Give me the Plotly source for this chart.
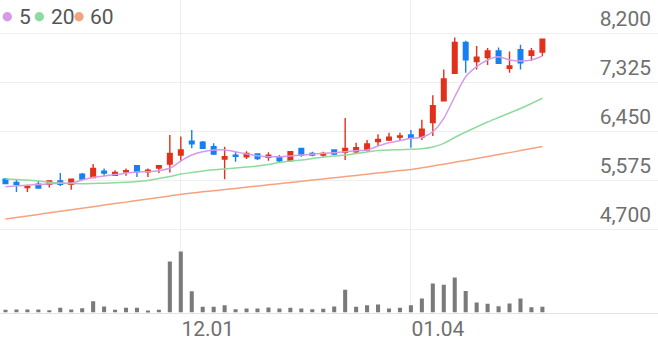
import plotly.graph_objects as go

dates = ["11.09","11.10","11.11","11.12","11.13","11.16","11.17","11.18","11.19","11.20",
         "11.23","11.24","11.25","11.26","11.27","11.30",
         "12.01","12.02","12.03","12.04","12.07","12.08","12.09","12.10","12.11","12.14",
         "12.15","12.16","12.17","12.18","12.21","12.22","12.23","12.24","12.28","12.29","12.30",
         "01.04","01.05","01.06","01.07","01.08","01.11","01.12","01.13","01.14","01.15",
         "01.18","01.19","01.20"]

open_ = [5590,5530,5440,5500,5500,5560,5500,5680,5620,5730,5660,5720,5830,5720,5790,5860,
         6020,6270,6250,6170,5950,6020,5990,6040,5980,5990,5920,6140,6050,6020,6110,6070,
         6080,6110,6260,6290,6340,6380,6340,6600,6990,7480,8030,7690,7760,7880,7570,7900,7800,7860]
high = [5610,5580,5490,5560,5560,5700,5590,5700,5860,5780,5750,5780,5830,5780,5830,6380,
        6350,6470,6270,6230,6170,6080,6090,6050,6070,6020,6080,6140,6080,6080,6120,6680,
        6240,6290,6390,6420,6420,6470,6650,7090,7550,8120,8060,7970,7930,7940,7870,7990,7930,8090]
low = [5500,5360,5360,5430,5440,5470,5400,5580,5620,5650,5650,5650,5630,5630,5700,5710,
       5910,6140,6130,6020,5590,5900,5950,5930,5920,5890,5910,5990,6000,5980,6020,5930,
       6050,6080,6180,6270,6280,6150,6290,6360,6990,7480,7490,7550,7630,7660,7490,7550,7700,7790]
close = [5510,5500,5460,5430,5560,5500,5590,5590,5780,5700,5710,5740,5720,5750,5830,6050,
         6110,6220,6140,6040,5990,6000,6050,5960,6020,5920,6080,6020,6020,6050,6040,6140,
         6150,6220,6300,6340,6360,6320,6480,6900,7380,8030,7720,7770,7880,7660,7610,7670,7880,8090]

volume = [13500,15000,15000,15000,11500,23500,15000,21500,56500,30000,13500,23500,23500,10000,
          13500,256500,306500,106500,28500,28500,36500,16500,20000,20000,25000,20000,23500,
          20000,16500,18500,30000,115000,28500,36500,40000,20000,23500,36500,70000,146500,
          140000,176500,108500,50000,43500,31500,45000,70000,26500,28500]

ma5 = [5455,5473,5482,5495,5507,5516,5516,5575,5623,5646,5673,5695,5718,5723,5741,5784,
       5914,6021,6080,6111,6111,6080,6039,6009,5991,5991,6004,6021,6034,6052,6062,6080,
       6098,6111,6182,6241,6277,6320,6337,6437,6677,7062,7420,7598,7718,7777,7718,7700,7718,7789]
ma20 = [5593,5584,5575,5557,5534,5521,5511,5509,5513,5518,5525,5534,5548,5566,5602,5638,
        5682,5709,5736,5757,5772,5789,5807,5825,5852,5888,5914,5932,5959,5986,6004,6021,
        6048,6075,6102,6111,6116,6123,6134,6164,6230,6334,6432,6522,6611,6691,6772,6852,6941,7034]
ma60 = [4879,4905,4934,4961,4989,5016,5043,5071,5098,5127,5154,5180,5209,5236,5264,5291,
        5320,5341,5363,5382,5404,5425,5446,5468,5489,5509,5530,5552,5573,5595,5616,5636,
        5657,5679,5700,5721,5743,5762,5793,5825,5857,5891,5925,5959,5993,6029,6064,6100,6136,6173]

y_ticks = [4700, 5575, 6450, 7325, 8200]
x_ticks = ["12.01", "01.04"]
ma_names = ["5", "20", "60"]
ma_colors = ["#d59be9", "#8fdb9f", "#f5a37f"]

H = 342
def fy(px):
    return 1 - px / H

fig = go.Figure()
for vals, name, col in zip([ma60, ma20, ma5], ma_names[::-1], ma_colors[::-1]):
    fig.add_trace(go.Scatter(x=dates, y=vals, mode="lines", name=name,
                             line=dict(color=col, width=1.5, shape="spline", smoothing=0.7),
                             xaxis="x", yaxis="y", showlegend=False, hoverinfo="skip"))

fig.add_trace(go.Candlestick(x=dates, open=open_, high=high, low=low, close=close,
                             increasing=dict(line=dict(color="#e2301a", width=1.4), fillcolor="#e2301a"),
                             decreasing=dict(line=dict(color="#1680f2", width=1.4), fillcolor="#1680f2"),
                             whiskerwidth=0, xaxis="x", yaxis="y", showlegend=False))

fig.add_trace(go.Bar(x=dates, y=volume, marker=dict(color="#7a7a7a", line=dict(width=0)),
                     width=0.37, xaxis="x2", yaxis="y2", showlegend=False))

grid = "#eeeeee"
xr = [-0.5, 59.55]
fig.update_layout(
    width=658, height=342,
    margin=dict(l=0, r=0, t=0, b=0, autoexpand=False),
    paper_bgcolor="white", plot_bgcolor="white",
    boxgap=0.4, boxgroupgap=0.3,
    font=dict(family="Roboto", color="#666666"),
    xaxis=dict(domain=[0, 1], anchor="y", type="category", range=xr, automargin=False,
               showticklabels=False, tickvals=x_ticks, showgrid=True, gridcolor=grid,
               gridwidth=1, zeroline=False, rangeslider=dict(visible=False), ticks=""),
    yaxis=dict(domain=[fy(240), 1], anchor="x", side="right", automargin=False,
               range=[8789.3 - 240 * 17.857, 8789.3],
               tickvals=y_ticks, ticktext=[f"{v:,}" for v in y_ticks],
               ticklabelposition="inside top", ticklabelshift=0, ticklabelstandoff=4,
               tickfont=dict(size=21, color="#707070", family="Roboto"),
               showgrid=True, gridcolor=grid, zeroline=False, ticks=""),
    xaxis2=dict(domain=[0, 1], anchor="y2", type="category", range=xr, matches="x",
                automargin=False,
                tickvals=x_ticks, ticktext=x_ticks, ticklabelshift=27, ticklabelstandoff=-3,
                tickfont=dict(size=21, color="#707070", family="Roboto"),
                showgrid=True, gridcolor=grid, zeroline=False, ticks="",
                showline=True, linecolor="#e3e3e3", linewidth=1),
    yaxis2=dict(domain=[fy(312.5), fy(240)], anchor="x2", range=[0, 365000],
                automargin=False,
                showticklabels=False, showgrid=False, zeroline=False, ticks=""),
)

# legend: dots + labels
dot_x = [7.3, 39.3, 79]
txt_x = [16.5, 49, 88]
for cx, tx, name, col in zip(dot_x, txt_x, ma_names, ma_colors):
    fig.add_shape(type="circle", xref="paper", yref="paper",
                  x0=(cx - 4.7) / 658, x1=(cx + 4.7) / 658,
                  y0=fy(16.7 + 4.7), y1=fy(16.7 - 4.7),
                  fillcolor=col, line=dict(width=0))
    fig.add_annotation(text=name, xref="paper", yref="paper", x=tx / 658, y=fy(16.7),
                       xanchor="left", yanchor="middle", showarrow=False,
                       font=dict(size=21, color="#555555", family="Roboto"))

fig.write_html("out.html", config=dict(displayModeBar=False))
